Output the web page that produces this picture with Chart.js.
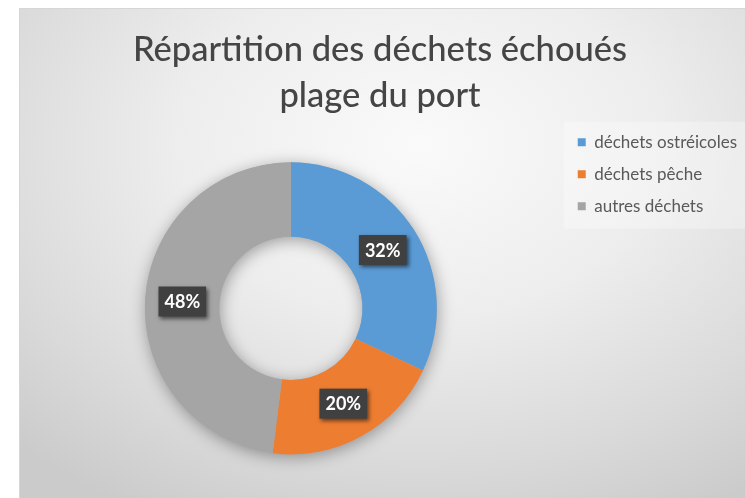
<!DOCTYPE html>
<html>
<head>
<meta charset="utf-8">
<script src="https://cdn.jsdelivr.net/npm/chart.js@4"></script>
<style>
  html, body { margin: 0; padding: 0; background: #ffffff; }
  #chartBox {
    position: absolute; left: 19px; top: 8px; width: 726px; height: 490px;
    background: radial-gradient(ellipse 80% 85% at 55% 28%, #fafafa 0%, #ededed 42%, #d9d9d9 78%, #cbcbcb 100%);
    box-shadow: inset 0 1px 0 #d6d6d6, inset 1px 0 0 #d6d6d6;
  }
</style>
</head>
<body>
<div id="chartBox"><canvas id="chartCanvas"></canvas></div>
<script>
const titleLines = ['Répartition des déchets échoués', 'plage du port'];
const categories = ['déchets ostréicoles', 'déchets pêche', 'autres déchets'];
const percents = [32, 20, 48];
const colors = ['#5b9bd5', '#ed7d31', '#a5a5a5'];

// ombre douce sous l'anneau
const ringShadow = {
    id: 'ringShadow',
    beforeDatasetsDraw(chart) {
        const arc = chart.getDatasetMeta(0).data[0];
        if (!arc) return;
        const ctx = chart.ctx;
        ctx.save();
        ctx.shadowColor = 'rgba(0,0,0,0.35)';
        ctx.shadowBlur = 16;
        ctx.shadowOffsetX = 1;
        ctx.shadowOffsetY = 3;
        ctx.fillStyle = '#b0b0b0';
        ctx.beginPath();
        ctx.arc(arc.x, arc.y, arc.outerRadius, 0, Math.PI * 2);
        ctx.arc(arc.x, arc.y, arc.innerRadius, 0, Math.PI * 2, true);
        ctx.fill();
        ctx.restore();
    }
};

// étiquettes de pourcentage dans des cases sombres
const boxLabels = {
    id: 'boxLabels',
    afterDatasetsDraw(chart) {
        const ctx = chart.ctx;
        const values = chart.data.datasets[0].data;
        const total = values.reduce((a, b) => a + b, 0);
        chart.getDatasetMeta(0).data.forEach((arc, i) => {
            const pos = arc.tooltipPosition();
            const txt = Math.round(values[i] / total * 100) + '%';
            ctx.save();
            ctx.font = 'bold 18px Lato';
            const w = ctx.measureText(txt).width + 12;
            const h = 30;
            ctx.shadowColor = 'rgba(0,0,0,0.55)';
            ctx.shadowBlur = 4;
            ctx.shadowOffsetX = 2;
            ctx.shadowOffsetY = 2;
            ctx.fillStyle = '#404040';
            ctx.fillRect(pos.x - w / 2, pos.y - h / 2, w, h);
            ctx.shadowColor = 'transparent';
            ctx.fillStyle = '#ffffff';
            ctx.textAlign = 'center';
            ctx.textBaseline = 'middle';
            ctx.fillText(txt, pos.x, pos.y + 1);
            ctx.restore();
        });
    }
};

// léger fond clair derrière la légende
const legendBack = {
    id: 'legendBack',
    beforeDraw(chart) {
        const lg = chart.legend;
        if (!lg || !lg.legendHitBoxes || !lg.legendHitBoxes.length) return;
        const hb = lg.legendHitBoxes;
        const ctx = chart.ctx;
        ctx.save();
        ctx.fillStyle = 'rgba(255,255,255,0.3)';
        const top = hb[0].top - 12;
        const bottom = hb[hb.length - 1].top + hb[hb.length - 1].height + 14;
        ctx.fillRect(hb[0].left - 14, top, chart.width - hb[0].left + 14, bottom - top);
        ctx.restore();
    }
};

new Chart(document.getElementById('chartCanvas'), {
    type: 'doughnut',
    data: {
        labels: categories,
        datasets: [{
            data: percents,
            backgroundColor: colors,
            borderWidth: 0,
            radius: 146,
            cutout: '49%'
        }]
    },
    options: {
        responsive: true,
        maintainAspectRatio: false,
        animation: false,
        layout: { padding: { left: -6, right: -2, top: 0, bottom: 0 } },
        plugins: {
            title: {
                display: true,
                text: titleLines,
                color: '#454545',
                font: { family: 'Lato', size: 34.5, weight: 500, lineHeight: 1.32 },
                padding: { top: 19.6, bottom: 0 }
            },
            legend: {
                display: true,
                position: 'right',
                align: 'start',
                fullSize: false,
                labels: {
                    boxWidth: 8,
                    boxHeight: 8,
                    padding: 15,
                    color: '#595959',
                    font: { family: 'Lato', size: 17 }
                }
            },
            tooltip: { enabled: false }
        }
    },
    plugins: [legendBack, ringShadow, boxLabels]
});
</script>
</body>
</html>
